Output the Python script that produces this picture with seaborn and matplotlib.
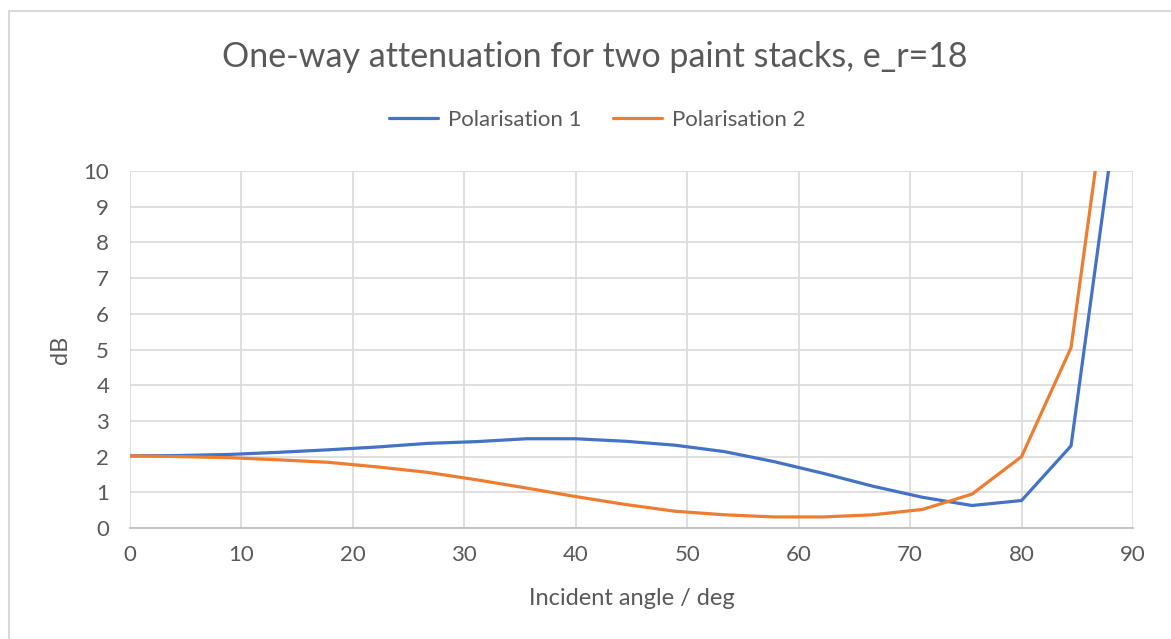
import matplotlib
matplotlib.use("Agg")
import matplotlib.pyplot as plt
import seaborn as sns
import pandas as pd
from matplotlib.patches import Rectangle

# ---- data ----
angles = [0, 4.44, 8.89, 13.33, 17.78, 22.22, 26.67, 31.11, 35.56, 40.0,
          44.44, 48.89, 53.33, 57.78, 62.22, 66.67, 71.11, 75.56, 80.0, 84.44, 88.89]
pol1 = [2.02, 2.03, 2.06, 2.12, 2.19, 2.27, 2.37, 2.42, 2.50, 2.50,
        2.43, 2.32, 2.14, 1.86, 1.53, 1.17, 0.86, 0.63, 0.77, 2.30, 12.5]
pol2 = [2.02, 2.00, 1.97, 1.91, 1.84, 1.71, 1.56, 1.35, 1.12, 0.88,
        0.66, 0.47, 0.37, 0.31, 0.31, 0.37, 0.52, 0.95, 2.00, 5.05, 15.2]
series_names = ["Polarisation 1", "Polarisation 2"]
x_ticks = [0, 10, 20, 30, 40, 50, 60, 70, 80, 90]
y_ticks = [0, 1, 2, 3, 4, 5, 6, 7, 8, 9, 10]
title = "One-way attenuation for two paint stacks, e_r=18"
xlabel = "Incident angle / deg"
ylabel = "dB"

df = pd.DataFrame({
    "angle": angles * 2,
    "dB": pol1 + pol2,
    "series": [series_names[0]] * len(angles) + [series_names[1]] * len(angles),
})

sns.set_theme(style="white")
plt.rcParams["font.family"] = ["Lato", "DejaVu Sans"]
TXT = "#595959"

fig = plt.figure(figsize=(11.71, 6.39), dpi=100)
fig.patch.set_facecolor("white")
# outer chart border
fig.patches.append(Rectangle((9 / 1171, -0.1), 1.2, (639 - 11) / 639 + 0.1,
                             transform=fig.transFigure, fill=False,
                             edgecolor="#D9D9D9", linewidth=1.5))

ax = fig.add_axes([130 / 1171, 1 - 528 / 639, (1133 - 130) / 1171, (528 - 171) / 639])
palette = {series_names[0]: "#4472C4", series_names[1]: "#ED7D31"}
sns.lineplot(data=df, x="angle", y="dB", hue="series", palette=palette,
             linewidth=2.3, ax=ax, legend=True, sort=False)

ax.set_xlim(0, 90)
ax.set_ylim(0, 10)
ax.set_xticks(x_ticks)
ax.set_yticks(y_ticks)
ax.grid(True, color="#D9D9D9", linewidth=1.2)
ax.set_axisbelow(True)
for s in ["top", "right", "left"]:
    ax.spines[s].set_visible(False)
ax.spines["bottom"].set_color("#BFBFBF")
ax.spines["bottom"].set_linewidth(1.3)
ax.tick_params(axis="both", length=0, labelsize=16, colors=TXT)
ax.tick_params(axis="x", pad=12)
ax.tick_params(axis="y", pad=15)
ax.set_xlabel(xlabel, fontsize=17, color=TXT, labelpad=17)
ax.set_ylabel(ylabel, fontsize=17, color=TXT, labelpad=9)

fig.text(0.508, 1 - 57 / 639, title, ha="center", va="center", fontsize=24.5, color=TXT)

h, l = ax.get_legend_handles_labels()
ax.legend_.remove()
fig.legend(h, l, loc="center", bbox_to_anchor=(0.51, 1 - 120 / 639), ncol=2,
           frameon=False, fontsize=16, labelcolor=TXT, handlelength=2.2,
           handletextpad=0.45, columnspacing=1.45)

fig.savefig("out.png", dpi=100)
